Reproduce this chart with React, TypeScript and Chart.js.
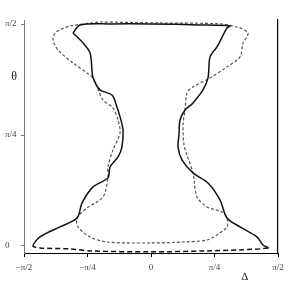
import React, { useEffect, useRef } from 'react';
import { Chart, registerables } from 'chart.js';

Chart.register(...registerables);

const HALF_PI = Math.PI / 2;
const QUARTER_PI = Math.PI / 4;

const xTickValues = [-HALF_PI, -QUARTER_PI, 0, QUARTER_PI, HALF_PI];
const xTickLabels = ['−π/2', '−π/4', '0', 'π/4', 'π/2'];
const yTickValues = [0, QUARTER_PI, HALF_PI];
const yTickLabels = ['0', 'π/4', 'π/2'];

// Curve A (solid, closes on itself)
const curveADelta = [
  -0.965, -0.878, -0.507, -0.012, 0.606, 0.977, 0.94, 0.816, 0.73, 0.705, 0.643, 0.519,
  0.421, 0.359, 0.346, 0.334, 0.383, 0.519, 0.705, 0.853, 0.94, 1.101, 1.311, 1.385,
  1.447, 1.101, 0.693, -0.012, -0.754, -1.002, -1.373, -1.459, -1.373, -1.126, -0.915,
  -0.853, -0.717, -0.532, -0.507, -0.408, -0.359, -0.346, -0.383, -0.421, -0.482,
  -0.631, -0.717, -0.73, -0.754, -0.841, -0.965,
];
const curveATheta = [
  1.508, 1.565, 1.572, 1.572, 1.565, 1.558, 1.544, 1.409, 1.339, 1.19, 1.105, 1.013,
  0.963, 0.892, 0.786, 0.701, 0.609, 0.517, 0.446, 0.326, 0.198, 0.135, 0.064, 0.007,
  -0.014, -0.028, -0.035, -0.042, -0.035, -0.021, -0.014, 0.0, 0.064, 0.135, 0.198,
  0.305, 0.418, 0.482, 0.559, 0.63, 0.701, 0.822, 0.914, 0.984, 1.069,
  1.105, 1.19, 1.246, 1.367, 1.438, 1.508,
];

// Curve B (dashed, closes on itself)
const curveBDelta = [
  -0.631, 0.111, 0.853, 1.101, 1.2, 1.187, 1.138, 1.101, 0.94, 0.73, 0.519, 0.445,
  0.421, 0.396, 0.408, 0.445, 0.519, 0.569, 0.693, 0.878, 0.94, 0.94, 0.816, 0.693,
  0.396, -0.012, -0.544, -0.754, -0.903, -0.915, -0.792, -0.594, -0.532, -0.532,
  -0.47, -0.383, -0.408, -0.47, -0.594, -0.668, -0.717, -0.792, -0.965, -1.15,
  -1.212, -1.187, -1.101, -1.002, -0.631,
];
const curveBTheta = [
  1.586, 1.579, 1.572, 1.544, 1.508, 1.48, 1.438, 1.339, 1.268, 1.19, 1.126, 1.084,
  0.963, 0.857, 0.715, 0.644, 0.517, 0.347, 0.276, 0.241, 0.198, 0.135, 0.078, 0.042,
  0.028, 0.021, 0.028, 0.064, 0.135, 0.198, 0.269, 0.347, 0.482, 0.559,
  0.68, 0.8, 0.892, 0.977, 1.034, 1.126, 1.19, 1.225, 1.296, 1.388,
  1.459, 1.508, 1.537, 1.558, 1.586,
];

const toPoints = (xs: number[], ys: number[]) => xs.map((x, i) => ({ x, y: ys[i] }));

const SERIF = '"Liberation Serif", "DejaVu Serif", serif';

const labelPlugin = {
  id: 'axisSymbols',
  afterDraw(chart: any) {
    const { ctx, scales } = chart;
    ctx.save();
    ctx.fillStyle = '#222';
    ctx.textAlign = 'center';
    ctx.textBaseline = 'middle';
    ctx.font = `12px ${SERIF}`;
    ctx.fillText('θ', 14, scales.y.getPixelForValue(1.2));
    ctx.font = `11px ${SERIF}`;
    ctx.fillText('Δ', scales.x.getPixelForValue(1.16), 277);
    ctx.restore();
  },
};

export default function App() {
  const ref = useRef<HTMLCanvasElement | null>(null);

  useEffect(() => {
    if (!ref.current) return;
    const chart = new Chart(ref.current, {
      type: 'scatter',
      data: {
        datasets: [
          {
            data: toPoints(curveADelta, curveATheta),
            showLine: true,
            borderColor: '#111',
            borderWidth: 1.5,
            pointRadius: 0,
            tension: 0.3,
            segment: {
              borderDash: (c: any) =>
                c.p0.parsed.y < 0.001 && c.p1.parsed.y < 0.001 ? [5, 3] : undefined,
            },
          } as any,
          {
            data: toPoints(curveBDelta, curveBTheta),
            showLine: true,
            borderColor: '#555',
            borderWidth: 1.2,
            borderDash: [3, 2],
            pointRadius: 0,
            tension: 0.3,
          } as any,
        ],
      },
      plugins: [labelPlugin],
      options: {
        animation: false,
        responsive: false,
        devicePixelRatio: 1,
        layout: { padding: { left: 5, top: 20, right: 0, bottom: 0 } },
        plugins: { legend: { display: false }, tooltip: { enabled: false } },
        scales: {
          x: {
            type: 'linear',
            min: -HALF_PI,
            max: HALF_PI,
            afterBuildTicks: (s: any) => {
              s.ticks = xTickValues.map((v) => ({ value: v }));
            },
            afterFit: (s: any) => {
              s.height = 31;
            },
            ticks: {
              autoSkip: false,
              maxRotation: 0,
              padding: 5,
              color: '#444',
              font: { family: SERIF, size: 9 },
              callback: (_v: any, i: number) => xTickLabels[i],
            },
            grid: {
              display: true,
              drawOnChartArea: false,
              drawTicks: true,
              tickLength: 4,
              color: '#000',
            },
            border: { display: true, color: '#000', width: 1 },
          },
          y: {
            type: 'linear',
            position: 'left',
            min: -0.05,
            max: 1.6,
            afterBuildTicks: (s: any) => {
              s.ticks = yTickValues.map((v) => ({ value: v }));
            },
            afterFit: (s: any) => {
              s.width = 19;
            },
            ticks: {
              autoSkip: false,
              crossAlign: 'far',
              padding: 2,
              color: '#444',
              font: { family: SERIF, size: 9 },
              callback: (_v: any, i: number) => yTickLabels[i],
            },
            grid: {
              display: true,
              drawOnChartArea: false,
              drawTicks: true,
              tickLength: 3,
              color: '#777',
            },
            border: { display: true, color: '#777', width: 1 },
          },
          y2: {
            type: 'linear',
            position: 'right',
            min: -0.05,
            max: 1.6,
            afterFit: (s: any) => {
              s.width = 13;
            },
            ticks: { display: false },
            grid: { display: false },
            border: { display: true, color: '#000', width: 1.2 },
          },
        },
      } as any,
    });
    return () => chart.destroy();
  }, []);

  return (
    <div style={{ position: 'fixed', left: 0, top: 0, width: 291, height: 284, background: '#fff' }}>
      <canvas ref={ref} width={291} height={284} style={{ width: 291, height: 284 }} />
    </div>
  );
}
